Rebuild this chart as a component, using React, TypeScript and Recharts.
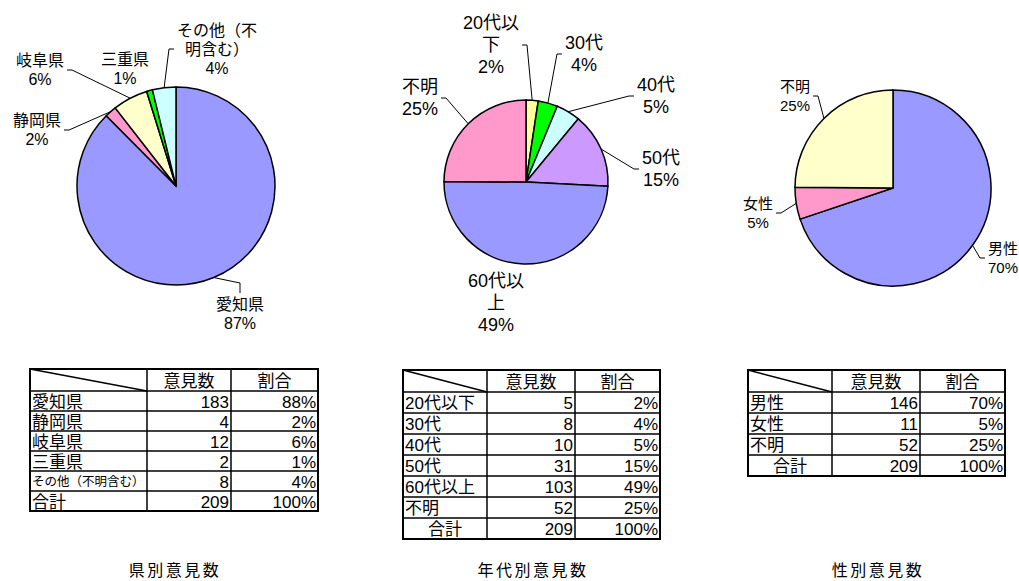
import React from 'react';
import { PieChart, Pie, Cell } from 'recharts';

// prefecture breakdown
const PREF_NAMES = ['愛知県', '静岡県', '岐阜県', '三重県', 'その他（不明含む）'];
const PREF_COUNTS = [183, 4, 12, 2, 8];
const PREF_COLORS = ['#9999FF', '#FF99CC', '#FFFFCC', '#00FF00', '#CCFFFF'];

// age breakdown
const AGE_NAMES = ['20代以下', '30代', '40代', '50代', '60代以上', '不明'];
const AGE_COUNTS = [5, 8, 10, 31, 103, 52];
const AGE_COLORS = ['#FFFF99', '#00FF00', '#CCFFFF', '#CC99FF', '#9999FF', '#FF99CC'];

// gender breakdown
const SEX_NAMES = ['男性', '女性', '不明'];
const SEX_COUNTS = [146, 11, 52];
const SEX_COLORS = ['#9999FF', '#FF99CC', '#FFFFCC'];

const HEADERS = ['意見数', '割合'];
const TOTAL_LABEL = '合計';
const TITLES = ['県別意見数', '年代別意見数', '性別意見数'];

// latin font first keeps the line boxes tight, CJK falls through to Noto
const FONT = "'Liberation Sans', 'Noto Sans CJK JP', sans-serif";
const RADIAN = Math.PI / 180;

// label placement relative to pie centre: [dx, dy, side the leader attaches to]
const PREF_LABEL_POS: [number, number, string][] = [
  [64, 128, 'top'],
  [-139, -56, 'right'],
  [-136, -116, 'right'],
  [-51, -117, 'none'],
  [41, -137, 'left'],
];
const AGE_LABEL_POS: [number, number, string][] = [
  [-35, -137, 'right'],
  [58, -128, 'left'],
  [130, -86, 'left'],
  [135, -13, 'left'],
  [-30, 121, 'none'],
  [-106, -84, 'right'],
];
const SEX_LABEL_POS: [number, number, string][] = [
  [110, 70, 'left'],
  [-135, 25, 'right'],
  [-98, -92, 'right'],
];

const charUnits = (ch: string) => {
  if (ch.charCodeAt(0) > 0x2e80) return 1;
  if (ch === '%') return 0.89;
  return 0.556;
};
const textUnits = (s: string) => s.split('').reduce((a, c) => a + charUnits(c), 0);

const wrap = (s: string, maxUnits: number) => {
  const lines: string[] = [];
  let cur = '';
  for (const ch of s.split('')) {
    if (cur && textUnits(cur + ch) > maxUnits + 0.01) {
      lines.push(cur);
      cur = ch;
    } else cur += ch;
  }
  if (cur) lines.push(cur);
  return lines;
};

// Excel-style pie labels: largest remainder so the shown percentages add to 100
const pieShares = (values: number[]) => {
  const total = values.reduce((a, b) => a + b, 0);
  const raw = values.map((v) => (v / total) * 100);
  const out = raw.map((r) => Math.floor(r));
  const left = 100 - out.reduce((a, b) => a + b, 0);
  const order = raw.map((r, i) => ({ i, rem: r - Math.floor(r) })).sort((a, b) => b.rem - a.rem);
  for (let k = 0; k < left; k++) out[order[k].i] += 1;
  return out;
};

const makeLabel = (
  names: string[],
  shares: number[],
  layout: [number, number, string][],
  fs: number,
  lh: number,
  wrapUnits: number
) => (props: any) => {
  const { cx, cy, midAngle, outerRadius, index } = props;
  const [dx, dy, side] = layout[index];
  const lines = [...wrap(names[index], wrapUnits), `${shares[index]}%`];
  const lx = cx + dx;
  const ly = cy + dy;
  const w = Math.max(...lines.map((l) => textUnits(l) * fs));
  const h = lines.length * lh;
  const px = cx + outerRadius * Math.cos(-midAngle * RADIAN);
  const py = cy + outerRadius * Math.sin(-midAngle * RADIAN);
  let pts = '';
  if (side === 'right') {
    const ex = lx + w / 2 + 3;
    pts = `${px},${py} ${ex + 5},${ly} ${ex},${ly}`;
  } else if (side === 'left') {
    const ex = lx - w / 2 - 3;
    pts = `${px},${py} ${ex - 5},${ly} ${ex},${ly}`;
  } else if (side === 'top') {
    const ey = ly - h / 2 - 2;
    pts = `${px},${py} ${lx},${ey - 10} ${lx},${ey}`;
  }
  return (
    <g key={`lbl-${index}`}>
      {pts && <polyline points={pts} fill="none" stroke="#000" strokeWidth={1} />}
      {lines.map((l, i) => (
        <text
          key={i}
          x={lx}
          y={ly + (i - (lines.length - 1) / 2) * lh}
          textAnchor="middle"
          dominantBaseline="central"
          fontSize={fs}
          fontFamily={FONT}
          fill="#000"
        >
          {l}
        </text>
      ))}
    </g>
  );
};

interface TableProps {
  x: number;
  y: number;
  cols: number[];
  headH: number;
  rowH: number;
  names: string[];
  counts: number[];
  centerTotal: boolean;
}

const DataTable = ({ x, y, cols, headH, rowH, names, counts, centerTotal }: TableProps) => {
  const fs = 17;
  const total = counts.reduce((a, b) => a + b, 0);
  const rows = [
    ...names.map((n, i) => ({ name: n, count: counts[i], pct: Math.round((counts[i] / total) * 100) })),
    { name: TOTAL_LABEL, count: total, pct: 100 },
  ];
  const width = cols.reduce((a, b) => a + b, 0);
  const height = headH + rows.length * rowH;
  const c1 = x + cols[0];
  const c2 = c1 + cols[1];
  return (
    <g fontFamily={FONT} fill="#000">
      <line x1={x} y1={y} x2={c1} y2={y + headH} stroke="#000" strokeWidth={1.5} />
      {rows.map((r, i) => {
        const top = y + headH + i * rowH;
        const mid = top + rowH / 2 + 1;
        const isTotal = i === rows.length - 1;
        const nameW = textUnits(r.name) * fs;
        const nfs = nameW > cols[0] - 4 ? Math.floor(((cols[0] - 4) / textUnits(r.name)) * 10) / 10 : fs;
        return (
          <g key={i}>
            <line x1={x} y1={top} x2={x + width} y2={top} stroke="#000" strokeWidth={1.5} />
            <text
              x={isTotal && centerTotal ? x + cols[0] / 2 : x + 2}
              y={mid}
              textAnchor={isTotal && centerTotal ? 'middle' : 'start'}
              dominantBaseline="central"
              fontSize={nfs}
            >
              {r.name}
            </text>
            <text x={c2 - 2} y={mid} textAnchor="end" dominantBaseline="central" fontSize={fs}>
              {r.count}
            </text>
            <text x={x + width - 2} y={mid} textAnchor="end" dominantBaseline="central" fontSize={fs}>
              {r.pct}%
            </text>
          </g>
        );
      })}
      <text x={c1 + cols[1] / 2} y={y + headH / 2 + 1} textAnchor="middle" dominantBaseline="central" fontSize={fs}>
        {HEADERS[0]}
      </text>
      <text x={c2 + cols[2] / 2} y={y + headH / 2 + 1} textAnchor="middle" dominantBaseline="central" fontSize={fs}>
        {HEADERS[1]}
      </text>
      <line x1={c1} y1={y} x2={c1} y2={y + height} stroke="#000" strokeWidth={1.5} />
      <line x1={c2} y1={y} x2={c2} y2={y + height} stroke="#000" strokeWidth={1.5} />
      <rect x={x} y={y} width={width} height={height} fill="none" stroke="#000" strokeWidth={2} />
    </g>
  );
};

const toData = (names: string[], counts: number[]) => names.map((n, i) => ({ name: n, value: counts[i] }));

export default function App() {
  const prefData = toData(PREF_NAMES, PREF_COUNTS);
  const ageData = toData(AGE_NAMES, AGE_COUNTS);
  const sexData = toData(SEX_NAMES, SEX_COUNTS);

  return (
    <div style={{ position: 'absolute', left: 0, top: 0, width: 1019, height: 581, background: '#fff' }}>
      <svg width={1019} height={581} style={{ position: 'absolute', left: 0, top: 0 }}>
        <DataTable x={30} y={369} cols={[117, 84, 87]} headH={22} rowH={20} names={PREF_NAMES} counts={PREF_COUNTS} centerTotal={false} />
        <DataTable x={403} y={370} cols={[84, 88, 85]} headH={22} rowH={21} names={AGE_NAMES} counts={AGE_COUNTS} centerTotal />
        <DataTable x={748} y={370} cols={[84, 88, 85]} headH={22} rowH={21} names={SEX_NAMES} counts={SEX_COUNTS} centerTotal />
        {[175, 533, 878].map((cx, i) => (
          <text key={i} x={cx} y={570} textAnchor="middle" dominantBaseline="central" fontSize={16} letterSpacing={2.5} fontFamily={FONT} fill="#000">
            {TITLES[i]}
          </text>
        ))}
      </svg>
      <div style={{ position: 'absolute', left: 0, top: 0 }}>
        <PieChart width={1019} height={345} margin={{ top: 0, right: 0, bottom: 0, left: 0 }}>
          <Pie
            data={prefData}
            dataKey="value"
            cx={176}
            cy={186}
            outerRadius={99}
            startAngle={90}
            endAngle={-270}
            stroke="#000"
            strokeWidth={1.5}
            labelLine={false}
            label={makeLabel(PREF_NAMES, pieShares(PREF_COUNTS), PREF_LABEL_POS, 16, 19, 5)}
            isAnimationActive={false}
          >
            {prefData.map((_, i) => (
              <Cell key={`p-${i}`} fill={PREF_COLORS[i]} />
            ))}
          </Pie>
          <Pie
            data={ageData}
            dataKey="value"
            cx={526}
            cy={182}
            outerRadius={82}
            startAngle={90}
            endAngle={-270}
            stroke="#000"
            strokeWidth={1.5}
            labelLine={false}
            label={makeLabel(AGE_NAMES, pieShares(AGE_COUNTS), AGE_LABEL_POS, 18, 22, 3.2)}
            isAnimationActive={false}
          >
            {ageData.map((_, i) => (
              <Cell key={`a-${i}`} fill={AGE_COLORS[i]} />
            ))}
          </Pie>
          <Pie
            data={sexData}
            dataKey="value"
            cx={893}
            cy={188}
            outerRadius={98}
            startAngle={90}
            endAngle={-270}
            stroke="#000"
            strokeWidth={1.5}
            labelLine={false}
            label={makeLabel(SEX_NAMES, pieShares(SEX_COUNTS), SEX_LABEL_POS, 15, 19, 5)}
            isAnimationActive={false}
          >
            {sexData.map((_, i) => (
              <Cell key={`s-${i}`} fill={SEX_COLORS[i]} />
            ))}
          </Pie>
        </PieChart>
      </div>
    </div>
  );
}
